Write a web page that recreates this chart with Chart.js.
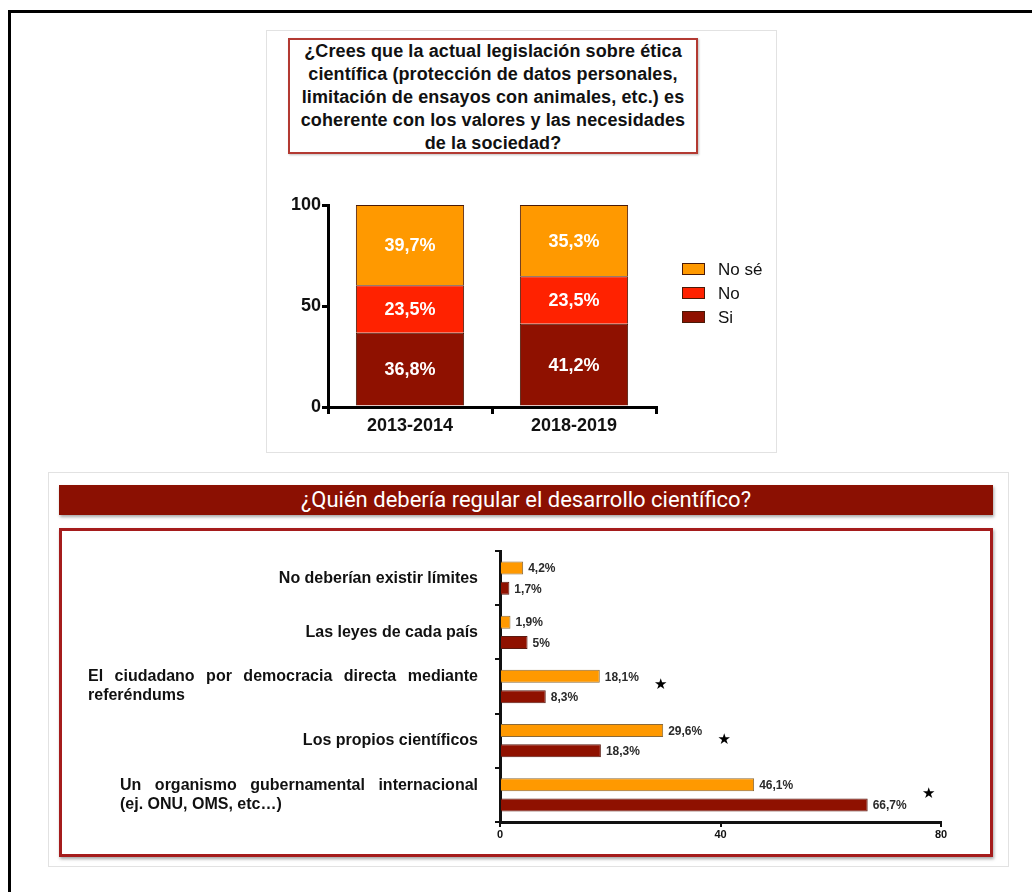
<!DOCTYPE html>
<html lang="es">
<head>
<meta charset="UTF-8">
<title>Legislación y regulación científica</title>
<script src="https://cdn.jsdelivr.net/npm/chart.js"></script>
<style>
    body { margin: 0; background: #fff; font-family: "Liberation Sans", Arial, sans-serif; }
    #frame {
        position: absolute; left: 8px; top: 10px; width: 1100px; height: 950px;
        border: 3px solid #000;
    }
    #panelTop {
        position: absolute; left: 266px; top: 30px; width: 509px; height: 421px;
        border: 1px solid #e2e2e2;
    }
    #qTop {
        position: absolute; left: 288px; top: 38px; width: 406px; height: 112px;
        border: 2px solid #b33a32; box-shadow: 1px 1px 2px rgba(0,0,0,0.25);
        text-align: center; font-weight: bold; font-size: 18px; line-height: 23px;
        color: #111; padding-top: 0; box-sizing: content-box; letter-spacing: 0.1px;
    }
    #panelBottom {
        position: absolute; left: 48px; top: 472px; width: 959px; height: 393px;
        border: 1px solid #e2e2e2;
    }
    #qBottom {
        position: absolute; left: 59px; top: 485px; width: 934px; height: 30px;
        background: #8b1002; color: #fff; text-align: center;
        font-family: "Liberation Sans Narrow", "Roboto", sans-serif; font-size: 22px; line-height: 30px;
        box-shadow: 1px 2px 3px rgba(0,0,0,0.35);
    }
    #boxBottom {
        position: absolute; left: 59px; top: 528px; width: 928px; height: 323px;
        border: 3px solid #a51c1c; box-shadow: 1px 2px 3px rgba(0,0,0,0.35);
    }
    #wrapTop { position: absolute; left: 266px; top: 180px; width: 510px; height: 270px; }
    #wrapBottom { position: absolute; left: 62px; top: 535px; width: 928px; height: 317px; }
</style>
</head>
<body>
<div id="frame"></div>
<div id="panelTop"></div>
<div id="qTop">¿Crees que la actual legislación sobre ética<br>científica (protección de datos personales,<br>limitación de ensayos con animales, etc.) es<br>coherente con los valores y las necesidades<br>de la sociedad?</div>
<div id="wrapTop"><canvas id="chartTop"></canvas></div>

<div id="panelBottom"></div>
<div id="qBottom">¿Quién debería regular el desarrollo científico?</div>
<div id="boxBottom"></div>
<div id="wrapBottom"><canvas id="chartBottom"></canvas></div>

<script>
// ---- datos: gráfico superior ----
const periodos = ['2013-2014', '2018-2019'];
const si = [36.8, 41.2];
const no = [23.5, 23.5];
const noSe = [39.7, 35.3];
const ticksTop = [0, 50, 100];

// ---- datos: gráfico inferior ----
const reguladores = [
    ['No deberían existir límites'],
    ['Las leyes de cada país'],
    ['El ciudadano por democracia directa mediante', 'referéndums'],
    ['Los propios científicos'],
    ['Un organismo gubernamental internacional', '(ej. ONU, OMS, etc…)']
];
const serieNaranja = [4.2, 1.9, 18.1, 29.6, 46.1];
const serieGranate = [1.7, 5, 8.3, 18.3, 66.7];
const significativo = [false, false, true, true, true];
const ticksBottom = [0, 40, 80];

const fmt = v => v.toString().replace('.', ',') + '%';
const FONT = '"Liberation Sans", Arial, sans-serif';

Chart.defaults.font.family = FONT;
Chart.defaults.color = '#111';
Chart.defaults.animation = false;

// etiquetas blancas dentro de las barras apiladas + leyenda a la derecha
const topDecor = {
    id: 'topDecor',
    afterDatasetsDraw(chart) {
        const ctx = chart.ctx;
        ctx.save();
        ctx.font = 'bold 18px ' + FONT;
        ctx.fillStyle = '#fff';
        ctx.textAlign = 'center';
        ctx.textBaseline = 'middle';
        chart.data.datasets.forEach((ds, di) => {
            chart.getDatasetMeta(di).data.forEach((bar, i) => {
                const c = bar.getCenterPoint();
                ctx.fillText(fmt(ds.data[i]), c.x, c.y + 1);
            });
        });
        ctx.restore();
    },
    afterDraw(chart) {
        const ctx = chart.ctx;
        const ca = chart.chartArea;
        const x0 = ca.right + 26;
        const yMid = (ca.top + ca.bottom) / 2 - 13;
        const items = chart.data.datasets.slice().reverse();
        ctx.save();
        ctx.font = '17px ' + FONT;
        ctx.textBaseline = 'middle';
        ctx.textAlign = 'left';
        items.forEach((ds, k) => {
            const yy = yMid + (k - 1) * 24;
            ctx.fillStyle = ds.backgroundColor;
            ctx.fillRect(x0, yy - 6, 23, 12);
            ctx.strokeStyle = '#4a1a08';
            ctx.lineWidth = 1;
            ctx.strokeRect(x0 + 0.5, yy - 5.5, 22, 11);
            ctx.fillStyle = '#111';
            ctx.fillText(ds.label, x0 + 36, yy + 1);
        });
        ctx.restore();
    }
};

new Chart(document.getElementById('chartTop'), {
    type: 'bar',
    data: {
        labels: periodos,
        datasets: [
            { label: 'Si', data: si, backgroundColor: '#8f1100', borderColor: '#4a1a08', borderWidth: 1 },
            { label: 'No', data: no, backgroundColor: '#ff2200', borderColor: '#4a1a08', borderWidth: 1 },
            { label: 'No sé', data: noSe, backgroundColor: '#ff9900', borderColor: '#4a1a08', borderWidth: 1 }
        ]
    },
    options: {
        responsive: true,
        maintainAspectRatio: false,
        layout: { padding: { top: 25, right: 120, left: 0, bottom: 0 } },
        plugins: { tooltip: { enabled: false }, legend: { display: false } },
        datasets: { bar: { categoryPercentage: 1, barPercentage: 0.66 } },
        scales: {
            x: {
                stacked: true,
                grid: { display: true, drawOnChartArea: false, drawTicks: true, tickLength: 7, color: '#000', lineWidth: 3 },
                border: { color: '#000', width: 3 },
                ticks: { font: { size: 18, weight: 'bold' }, color: '#111', padding: 1 },
                afterFit: s => { s.height = 43; }
            },
            y: {
                stacked: true,
                min: 0, max: 100,
                afterBuildTicks: s => { s.ticks = ticksTop.map(v => ({ value: v })); },
                grid: { display: true, drawOnChartArea: false, drawTicks: true, tickLength: 6, color: '#000', lineWidth: 3 },
                border: { color: '#000', width: 3 },
                ticks: { font: { size: 18, weight: 'bold' }, color: '#111', padding: 1 },
                afterFit: s => { s.width = 62; }
            }
        }
    },
    plugins: [topDecor]
});

// etiquetas de categoría justificadas, valores y asteriscos
const hbarDecor = {
    id: 'hbarDecor',
    afterDraw(chart) {
        const ctx = chart.ctx;
        const y = chart.scales.y, x = chart.scales.x;
        const right = chart.chartArea.left - 22;
        const justifyLeft = [null, null, 26, null, 58];
        ctx.save();
        // etiquetas de categoría
        ctx.font = 'bold 16px ' + FONT;
        ctx.fillStyle = '#111';
        ctx.textBaseline = 'middle';
        reguladores.forEach((lines, i) => {
            const cy = y.getPixelForTick(i);
            const lh = 19;
            const y0 = cy - (lines.length - 1) * lh / 2;
            lines.forEach((line, li) => {
                const yy = y0 + li * lh;
                if (lines.length > 1 && li === 0) {
                    // línea justificada
                    const words = line.split(' ');
                    const left = justifyLeft[i];
                    const total = words.reduce((a, w) => a + ctx.measureText(w).width, 0);
                    const gap = (right - left - total) / (words.length - 1);
                    let px = left;
                    ctx.textAlign = 'left';
                    words.forEach(w => { ctx.fillText(w, px, yy); px += ctx.measureText(w).width + gap; });
                } else if (lines.length > 1) {
                    ctx.textAlign = 'left';
                    ctx.fillText(line, justifyLeft[i], yy);
                } else {
                    ctx.textAlign = 'right';
                    ctx.fillText(line, right, yy);
                }
            });
        });
        // valores
        ctx.font = 'bold 12px ' + FONT;
        ctx.fillStyle = '#2a2a2a';
        ctx.textAlign = 'left';
        chart.data.datasets.forEach((ds, di) => {
            chart.getDatasetMeta(di).data.forEach((bar, i) => {
                ctx.fillText(fmt(ds.data[i]), bar.x + 5, bar.y + 1);
            });
        });
        // asteriscos de significación
        ctx.font = '15px "DejaVu Sans", sans-serif';
        ctx.fillStyle = '#000';
        ctx.textAlign = 'center';
        significativo.forEach((s, i) => {
            if (!s) return;
            const m = Math.max(serieNaranja[i], serieGranate[i]);
            ctx.fillText('★', x.getPixelForValue(m) + 61, y.getPixelForTick(i) - 1);
        });
        ctx.restore();
    }
};

new Chart(document.getElementById('chartBottom'), {
    type: 'bar',
    data: {
        labels: reguladores.map(l => l.join(' ')),
        datasets: [
            { label: 'Naranja', data: serieNaranja, backgroundColor: '#ff9900', borderColor: '#8a6a3a', borderWidth: 1 },
            { label: 'Granate', data: serieGranate, backgroundColor: '#8f1100', borderColor: '#5a1a10', borderWidth: 1 }
        ]
    },
    options: {
        indexAxis: 'y',
        responsive: true,
        maintainAspectRatio: false,
        layout: { padding: { top: 16, right: 49, left: 0, bottom: 0 } },
        plugins: { legend: { display: false }, tooltip: { enabled: false } },
        datasets: { bar: { categoryPercentage: 0.75, barPercentage: 0.64 } },
        scales: {
            x: {
                min: 0, max: 80,
                afterBuildTicks: s => { s.ticks = ticksBottom.map(v => ({ value: v })); },
                grid: { display: true, drawOnChartArea: false, drawTicks: true, tickLength: 5, color: '#111', lineWidth: 2 },
                border: { color: '#111', width: 3 },
                ticks: { font: { size: 11, weight: 'bold' }, color: '#111', padding: 1 },
                afterFit: s => { s.height = 30; }
            },
            y: {
                grid: { display: true, drawOnChartArea: false, drawTicks: true, tickLength: 5, color: '#111', lineWidth: 2 },
                border: { color: '#111', width: 3 },
                ticks: { display: false },
                afterFit: s => { s.width = 438; }
            }
        }
    },
    plugins: [hbarDecor]
});
</script>
</body>
</html>
